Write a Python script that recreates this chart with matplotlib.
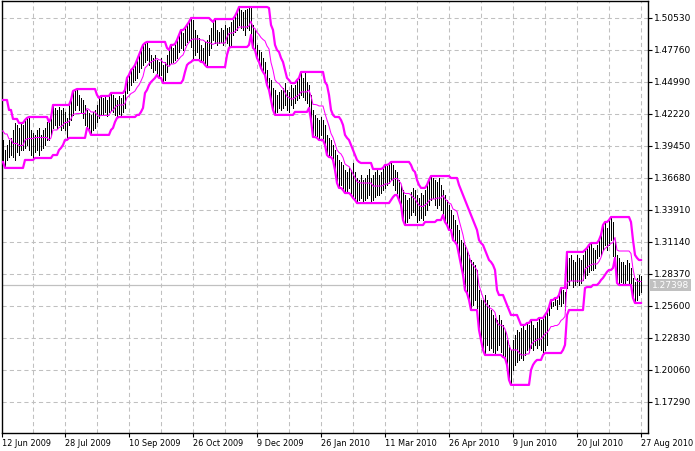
import matplotlib

matplotlib.use("Agg")
import matplotlib.pyplot as plt
import numpy as np
import pandas as pd

# daily bars, hidden warm-up bars first (they only feed the channel)
warm_high = [1.4300, 1.4326, 1.4274, 1.4343, 1.4240, 1.4257, 1.4127, 1.4101, 1.4179, 1.4041]
warm_low = [1.4041, 1.4101, 1.4041, 1.4084, 1.3997, 1.3980, 1.3910, 1.3867, 1.3910, 1.3807]

high = [
    1.3997, 1.3910, 1.3954, 1.3997, 1.4015, 1.4084, 1.4144, 1.4127, 1.4101, 1.4144,
    1.4127, 1.4170, 1.4188, 1.4196, 1.4084, 1.4058, 1.4041, 1.4084, 1.4101, 1.4041,
    1.4084, 1.4101, 1.4153, 1.4153, 1.4188, 1.4300, 1.4274, 1.4257, 1.4282, 1.4257,
    1.4274, 1.4240, 1.4188, 1.4300, 1.4343, 1.4421, 1.4430, 1.4438, 1.4387, 1.4361,
    1.4343, 1.4300, 1.4257, 1.4231, 1.4214, 1.4240, 1.4257, 1.4300, 1.4361, 1.4378,
    1.4361, 1.4369, 1.4343, 1.4378, 1.4404, 1.4387, 1.4361, 1.4343, 1.4378, 1.4361,
    1.4387, 1.4430, 1.4534, 1.4560, 1.4603, 1.4620, 1.4646, 1.4689, 1.4733, 1.4776,
    1.4820, 1.4837, 1.4846, 1.4794, 1.4733, 1.4707, 1.4733, 1.4689, 1.4672, 1.4707,
    1.4646, 1.4672, 1.4733, 1.4776, 1.4820, 1.4794, 1.4828, 1.4863, 1.4906, 1.4949,
    1.4923, 1.4967, 1.4993, 1.5019, 1.5053, 1.5036, 1.4949, 1.4906, 1.4880, 1.4820,
    1.4794, 1.4846, 1.4863, 1.4906, 1.4967, 1.5019, 1.5044, 1.4949, 1.4932, 1.4967,
    1.4949, 1.4993, 1.4967, 1.4975, 1.5019, 1.5036, 1.5070, 1.5105, 1.5148, 1.5122,
    1.5105, 1.5122, 1.5131, 1.5148, 1.5140, 1.4993, 1.4949, 1.4820, 1.4776, 1.4759,
    1.4707, 1.4672, 1.4603, 1.4534, 1.4516, 1.4447, 1.4430, 1.4387, 1.4413, 1.4430,
    1.4447, 1.4490, 1.4430, 1.4413, 1.4473, 1.4447, 1.4473, 1.4516, 1.4534, 1.4586,
    1.4534, 1.4586, 1.4499, 1.4473, 1.4387, 1.4257, 1.4214, 1.4188, 1.4170, 1.4196,
    1.4170, 1.4127, 1.4041, 1.4015, 1.3997, 1.3954, 1.3910, 1.3867, 1.3824, 1.3807,
    1.3781, 1.3737, 1.3720, 1.3755, 1.3737, 1.3798, 1.3720, 1.3668, 1.3651, 1.3694,
    1.3651, 1.3668, 1.3694, 1.3746, 1.3668, 1.3694, 1.3720, 1.3737, 1.3694, 1.3720,
    1.3755, 1.3781, 1.3772, 1.3789, 1.3807, 1.3781, 1.3737, 1.3720, 1.3651, 1.3608,
    1.3564, 1.3521, 1.3477, 1.3495, 1.3547, 1.3582, 1.3564, 1.3521, 1.3495, 1.3538,
    1.3521, 1.3564, 1.3608, 1.3651, 1.3685, 1.3668, 1.3651, 1.3634, 1.3668, 1.3608,
    1.3564, 1.3521, 1.3477, 1.3434, 1.3391, 1.3348, 1.3304, 1.3261, 1.3218, 1.3131,
    1.3105, 1.3088, 1.3045, 1.3002, 1.2958, 1.2941, 1.2915, 1.2872, 1.2698, 1.2612,
    1.2612, 1.2655, 1.2612, 1.2569, 1.2525, 1.2482, 1.2456, 1.2439, 1.2482, 1.2439,
    1.2396, 1.2352, 1.2266, 1.2223, 1.2179, 1.2266, 1.2309, 1.2352, 1.2335, 1.2370,
    1.2396, 1.2352, 1.2413, 1.2396, 1.2439, 1.2396, 1.2370, 1.2422, 1.2456, 1.2439,
    1.2456, 1.2482, 1.2508, 1.2551, 1.2612, 1.2595, 1.2629, 1.2612, 1.2655, 1.2716,
    1.2698, 1.2681, 1.3028, 1.2976, 1.3002, 1.2958, 1.2941, 1.3002, 1.2976, 1.2958,
    1.3002, 1.3045, 1.3062, 1.3088, 1.3105, 1.3062, 1.3045, 1.3088, 1.3131, 1.3175,
    1.3261, 1.3287, 1.3235, 1.3304, 1.3330, 1.3287, 1.3131, 1.3002, 1.2976, 1.2941,
    1.2941, 1.2915, 1.2958, 1.2932, 1.2889, 1.2803, 1.2768, 1.2803, 1.2829, 1.2820,
]
low = [
    1.3807, 1.3755, 1.3824, 1.3849, 1.3867, 1.3849, 1.3824, 1.3893, 1.3867, 1.3910,
    1.3910, 1.3928, 1.3954, 1.3910, 1.3867, 1.3841, 1.3893, 1.3910, 1.3867, 1.3910,
    1.3928, 1.3954, 1.3997, 1.3997, 1.4041, 1.4101, 1.4127, 1.4101, 1.4127, 1.4084,
    1.4101, 1.4084, 1.4015, 1.4127, 1.4170, 1.4214, 1.4257, 1.4300, 1.4257, 1.4240,
    1.4188, 1.4127, 1.4101, 1.4084, 1.4041, 1.4084, 1.4101, 1.4153, 1.4188, 1.4214,
    1.4222, 1.4240, 1.4205, 1.4240, 1.4257, 1.4240, 1.4214, 1.4196, 1.4222, 1.4214,
    1.4240, 1.4274, 1.4404, 1.4430, 1.4473, 1.4499, 1.4516, 1.4534, 1.4586, 1.4620,
    1.4646, 1.4672, 1.4689, 1.4646, 1.4620, 1.4586, 1.4603, 1.4560, 1.4534, 1.4560,
    1.4490, 1.4516, 1.4586, 1.4646, 1.4663, 1.4672, 1.4689, 1.4707, 1.4759, 1.4794,
    1.4776, 1.4820, 1.4846, 1.4863, 1.4802, 1.4689, 1.4733, 1.4759, 1.4707, 1.4672,
    1.4672, 1.4646, 1.4628, 1.4733, 1.4794, 1.4863, 1.4837, 1.4820, 1.4837, 1.4846,
    1.4820, 1.4846, 1.4837, 1.4802, 1.4820, 1.4906, 1.4932, 1.4949, 1.4993, 1.4967,
    1.4949, 1.4906, 1.4967, 1.4949, 1.4906, 1.4794, 1.4776, 1.4707, 1.4672, 1.4620,
    1.4586, 1.4560, 1.4473, 1.4430, 1.4343, 1.4257, 1.4214, 1.4240, 1.4274, 1.4257,
    1.4274, 1.4300, 1.4257, 1.4240, 1.4300, 1.4274, 1.4317, 1.4343, 1.4361, 1.4387,
    1.4369, 1.4343, 1.4317, 1.4274, 1.4170, 1.4023, 1.4041, 1.4015, 1.3997, 1.4041,
    1.3997, 1.3954, 1.3867, 1.3849, 1.3867, 1.3824, 1.3737, 1.3625, 1.3582, 1.3608,
    1.3564, 1.3538, 1.3547, 1.3582, 1.3521, 1.3495, 1.3477, 1.3451, 1.3477, 1.3495,
    1.3460, 1.3477, 1.3495, 1.3521, 1.3451, 1.3477, 1.3503, 1.3521, 1.3521, 1.3538,
    1.3564, 1.3582, 1.3608, 1.3625, 1.3651, 1.3608, 1.3564, 1.3538, 1.3477, 1.3434,
    1.3304, 1.3261, 1.3287, 1.3322, 1.3348, 1.3374, 1.3348, 1.3287, 1.3304, 1.3322,
    1.3304, 1.3348, 1.3391, 1.3434, 1.3477, 1.3495, 1.3434, 1.3408, 1.3434, 1.3391,
    1.3348, 1.3287, 1.3261, 1.3218, 1.3235, 1.3131, 1.3114, 1.3088, 1.3002, 1.2915,
    1.2829, 1.2698, 1.2672, 1.2612, 1.2525, 1.2569, 1.2612, 1.2543, 1.2352, 1.2266,
    1.2179, 1.2136, 1.2223, 1.2179, 1.2197, 1.2162, 1.2136, 1.2179, 1.2223, 1.2162,
    1.2118, 1.2110, 1.2050, 1.1920, 1.1877, 1.2006, 1.2050, 1.2076, 1.2093, 1.2110,
    1.2093, 1.2136, 1.2179, 1.2162, 1.2197, 1.2179, 1.2223, 1.2197, 1.2223, 1.2179,
    1.2153, 1.2179, 1.2223, 1.2482, 1.2543, 1.2560, 1.2569, 1.2534, 1.2577, 1.2560,
    1.2586, 1.2525, 1.2716, 1.2742, 1.2785, 1.2724, 1.2742, 1.2768, 1.2742, 1.2759,
    1.2785, 1.2803, 1.2829, 1.2855, 1.2872, 1.2872, 1.2889, 1.2976, 1.2993, 1.3002,
    1.3045, 1.3088, 1.3045, 1.3088, 1.3131, 1.2993, 1.2976, 1.2759, 1.2742, 1.2768,
    1.2742, 1.2759, 1.2785, 1.2750, 1.2742, 1.2629, 1.2586, 1.2612, 1.2655, 1.2681,
]

last_price = 1.27398
price_ticks = [1.17290, 1.20060, 1.22830, 1.25600, 1.28370, 1.31140, 1.33910,
               1.36680, 1.39450, 1.42220, 1.44990, 1.47760, 1.50530]
date_labels = ["12 Jun 2009", "28 Jul 2009", "10 Sep 2009", "26 Oct 2009", "9 Dec 2009",
               "26 Jan 2010", "11 Mar 2010", "26 Apr 2010", "9 Jun 2010", "20 Jul 2010",
               "27 Aug 2010"]

PERIOD = 10
MAGENTA, GRID = "#ff00ff", "#c0c0c0"
W, H = 695, 451

hi_all = pd.Series(warm_high + high)
lo_all = pd.Series(warm_low + low)
upper = hi_all.rolling(PERIOD, min_periods=1).max()
lower = lo_all.rolling(PERIOD, min_periods=1).min()
middle = (upper + lower) / 2
pos = np.arange(len(hi_all)) - len(warm_high) + 1  # first real bar at 1

fig = plt.figure(figsize=(W / 100, H / 100), dpi=100)
ax = fig.add_axes([2 / W, 18 / H, 646 / W, 432 / H])
ax.set_xlim(0.5, 323.5)
ax.set_ylim(1.14606, 1.52001)

for y in price_ticks:
    ax.axhline(y, color=GRID, lw=0.75, ls=(0, (4, 3)), zorder=0)
for x in range(16, 323, 16):
    ax.axvline(x, color=GRID, lw=0.75, ls=(0, (4, 3)), zorder=0)
ax.axhline(last_price, color=GRID, lw=0.9, zorder=1)

real = pos >= 1
ax.vlines(pos[real], lo_all[real], hi_all[real], color="black", lw=0.72,
          antialiased=False, zorder=2)
ax.plot(pos, middle, color=MAGENTA, lw=0.75, zorder=3)
ax.plot(pos, upper, color=MAGENTA, lw=1.6, zorder=4)
ax.plot(pos, lower, color=MAGENTA, lw=1.6, zorder=4)

ax.yaxis.tick_right()
ax.set_yticks(price_ticks)
ax.set_yticklabels([f"{v:.5f}" for v in price_ticks])
ax.set_xticks([0.5] + [32 * k for k in range(1, len(date_labels))])
ax.set_xticklabels(date_labels)
for lab in ax.get_xticklabels():
    lab.set_ha("left")
ax.tick_params(axis="both", direction="out", length=3, width=0.8, colors="black",
               labelsize=6.5, pad=1.5)
ax.tick_params(axis="x", labelsize=5.9)
for s in ax.spines.values():
    s.set_color("black")
    s.set_linewidth(1.0)

ax.text(1.006, last_price, f"{last_price:.5f}", transform=ax.get_yaxis_transform(),
        color="white", fontsize=6.5, va="center", ha="left",
        bbox=dict(facecolor=GRID, edgecolor="none", pad=1.2))

fig.savefig("out.png", dpi=100, facecolor="white")
